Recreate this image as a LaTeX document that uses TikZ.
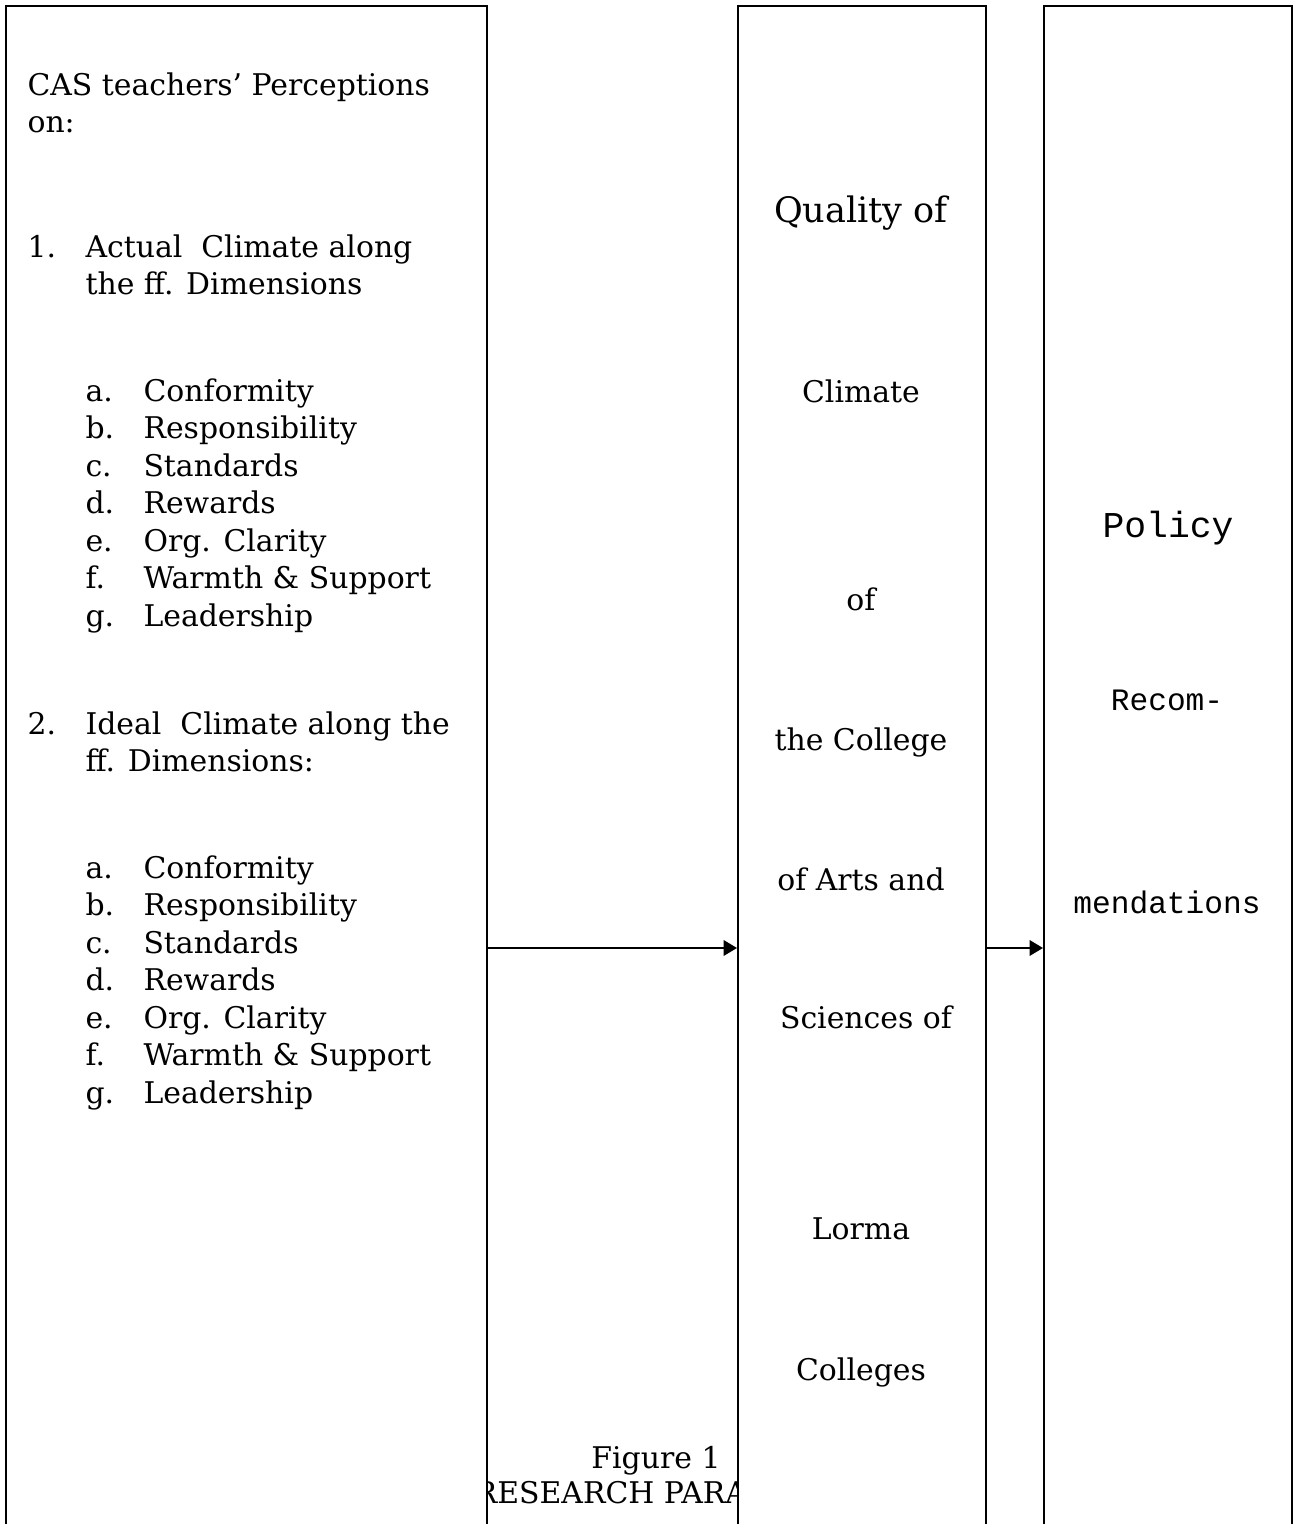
\documentclass[tikz,border=0pt]{standalone}
\usepackage{fontspec}
\setmainfont{DejaVu Serif}
\setmonofont{Liberation Mono}
\usetikzlibrary{arrows.meta}

\tikzset{panel/.style={draw=black,line width=0.8pt,fill=white,rectangle,anchor=north west,inner sep=0pt,minimum height=654pt}}
\tikzset{flow/.style={draw=black,line width=0.8pt,-{Triangle[length=5.2pt,width=6pt]}}}
\tikzset{item/.style={anchor=base west,inner sep=0pt,font=\fontsize{11.5}{14}\selectfont}}
\tikzset{word/.style={anchor=base,inner sep=0pt,font=\fontsize{11.5}{14}\selectfont}}
\tikzset{mono/.style={anchor=base,inner sep=0pt,font=\ttfamily\fontsize{12}{14.4}\selectfont}}

\begin{document}
\begin{tikzpicture}[x=0.385pt,y=-0.385pt]
    \useasboundingbox (0,0) rectangle (1294,1524);
    \clip (0,0) rectangle (1294,1524);
    % caption is partly hidden by the panels
    \node[word] (fig)  at (656,1468) {Figure 1};
    \node[word] (fig2) at (656,1503) {RESEARCH PARADIGM};
    % the three panels run off the bottom of the page
    \node[panel,minimum width=185.2pt] (input)   at (5,5)    {};
    \node[panel,minimum width=95.5pt]  (process) at (737,5)  {};
    \node[panel,minimum width=95.5pt]  (output)  at (1043,5) {};
    \coordinate (lvl) at (0,948);
    \draw[flow] (input.east |- lvl)   -- (process.west |- lvl);
    \draw[flow] (process.east |- lvl) -- (output.west |- lvl);
    % input: perceptions
    \node[item] (head1) at (27,95)  {CAS teachers’ Perceptions};
    \node[item] (head2) at (27,132) {on:};
    \node[item] (num1)  at (27,257) {1.};
    \node[item] (act1)  at (85,257) {Actual\ \ Climate along};
    \node[item] (act2)  at (85,294) {the ff. Dimensions};
    \node[item] (num2)  at (27,734) {2.};
    \node[item] (ide1)  at (85,734) {Ideal\ \ Climate along the};
    \node[item] (ide2)  at (85,771) {ff. Dimensions:};
    \foreach \lbl/\dim [count=\i] in {a./Conformity,b./Responsibility,c./Standards,d./Rewards,e./Org. Clarity,f./Warmth \& Support,g./Leadership} {
      \node[item] (actlbl\i) at (85,{401+37.5*(\i-1)})  {\lbl};
      \node[item] (actdim\i) at (143,{401+37.5*(\i-1)}) {\dim};
      \node[item] (idelbl\i) at (85,{878+37.5*(\i-1)})  {\lbl};
      \node[item] (idedim\i) at (143,{878+37.5*(\i-1)}) {\dim};
    }
    % process: quality of climate
    \node[word,font=\fontsize{13.5}{16}\selectfont] (q1) at (861,222) {Quality of};
    \node[word] (q2) at (861,402)  {Climate};
    \node[word] (q3) at (861,610)  {of};
    \node[word] (q4) at (861,750)  {the College};
    \node[word] (q5) at (861,890)  {of Arts and};
    \node[word] (q6) at (866,1028) {Sciences of};
    \node[word] (q7) at (861,1239) {Lorma};
    \node[word] (q8) at (861,1380) {Colleges};
    % output: recommendations
    \node[mono,font=\ttfamily\fontsize{14}{16.8}\selectfont] (r1) at (1168,537) {Policy};
    \node[mono] (r2) at (1167,710) {Recom-};
    \node[mono] (r3) at (1167,913) {mendations};
\end{tikzpicture}
\end{document}
